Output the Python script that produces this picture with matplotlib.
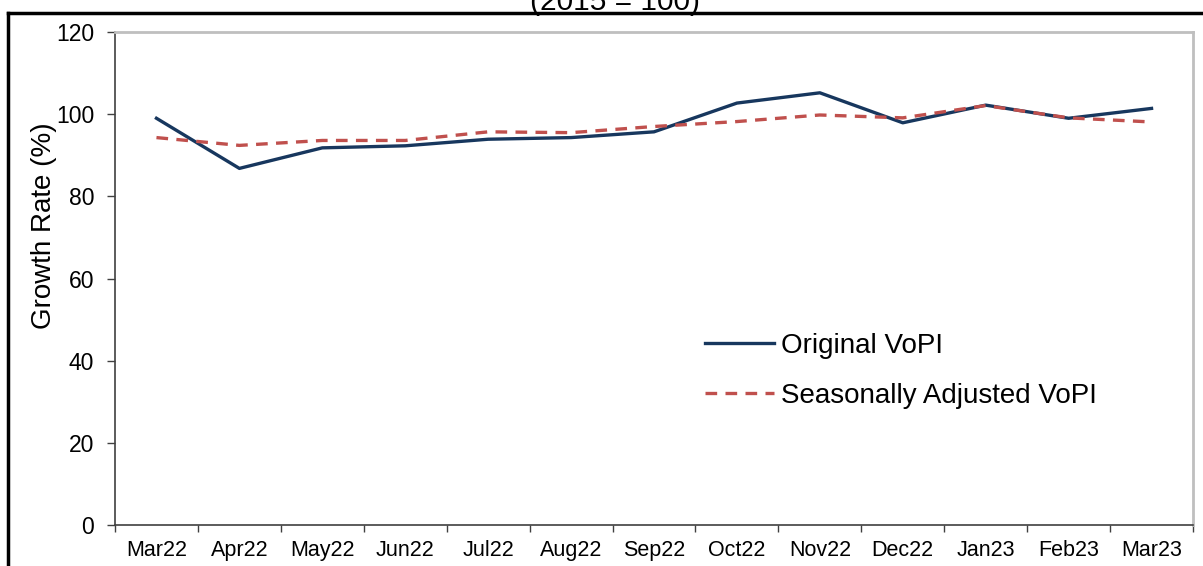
import matplotlib
matplotlib.use('Agg')
import matplotlib.pyplot as plt
from matplotlib.lines import Line2D
import numpy as np

plt.rcParams['font.family'] = ['Liberation Sans', 'DejaVu Sans']

months = ['Mar22', 'Apr22', 'May22', 'Jun22', 'Jul22', 'Aug22', 'Sep22',
          'Oct22', 'Nov22', 'Dec22', 'Jan23', 'Feb23', 'Mar23']
original = [99.0, 86.8, 91.8, 92.3, 93.9, 94.3, 95.7, 102.7, 105.2, 97.9, 102.2, 99.0, 101.4]
seas_adj = [94.3, 92.4, 93.6, 93.6, 95.7, 95.5, 97.0, 98.2, 99.8, 99.1, 102.1, 99.1, 98.1]
yticks = [0, 20, 40, 60, 80, 100, 120]

W, H = 1203, 566
fig = plt.figure(figsize=(W / 100, H / 100), dpi=100)
ax = fig.add_axes([115 / W, (H - 525) / H, (1193 - 115) / W, (525 - 32) / H])

x = np.arange(len(months))
ax.plot(x, original, color='#17375E', lw=2.4, label='Original VoPI')
ax.plot(x, seas_adj, color='#C0504D', lw=2.4, dashes=(3.5, 2.5), label='Seasonally Adjusted VoPI')

ax.set_xlim(-0.5, len(months) - 0.5)
ax.set_ylim(0, 120)
ax.set_yticks(yticks)
ax.set_yticklabels([str(v) for v in yticks], fontsize=16.5)
ax.set_xticks(x)
ax.set_xticklabels(months, fontsize=15.5)
ax.set_xticks(np.arange(len(months) + 1) - 0.5, minor=True)
ax.tick_params(axis='x', which='major', length=0, pad=11)
ax.tick_params(axis='x', which='minor', length=5, width=1, color='#404040', direction='out')
ax.tick_params(axis='y', length=6, width=1, color='#404040', direction='out', pad=9)

ax.spines['left'].set_color('#404040')
ax.spines['bottom'].set_color('#404040')
ax.spines['left'].set_linewidth(1.2)
ax.spines['bottom'].set_linewidth(1.2)
ax.spines['top'].set_color('#BFBFBF')
ax.spines['right'].set_color('#BFBFBF')
ax.spines['top'].set_linewidth(2)
ax.spines['right'].set_linewidth(2)

# label sits off-centre, a bit higher than the axis middle
ax.set_ylabel('Growth Rate (%)', fontsize=20)
ax.yaxis.set_label_coords((57 - 115) / 1078, (525 - 226) / 493)

ax.legend(loc='center left', bbox_to_anchor=(705 / W, 1 - 371 / H), bbox_transform=fig.transFigure,
          frameon=False, fontsize=20, handlelength=2.5, handletextpad=0.25,
          labelspacing=0.85, borderpad=0, borderaxespad=0)

# outer frame and cut-off title
fig.add_artist(Line2D([8 / W, 1], [1 - 13 / H, 1 - 13 / H], color='black', lw=2.5))
fig.add_artist(Line2D([8 / W, 8 / W], [0, 1 - 13 / H], color='black', lw=2.5))
fig.text(615 / W, 1 - 10 / H, '(2015 = 100)', fontsize=21.5, ha='center', va='baseline')

fig.savefig('out.png', dpi=100)
